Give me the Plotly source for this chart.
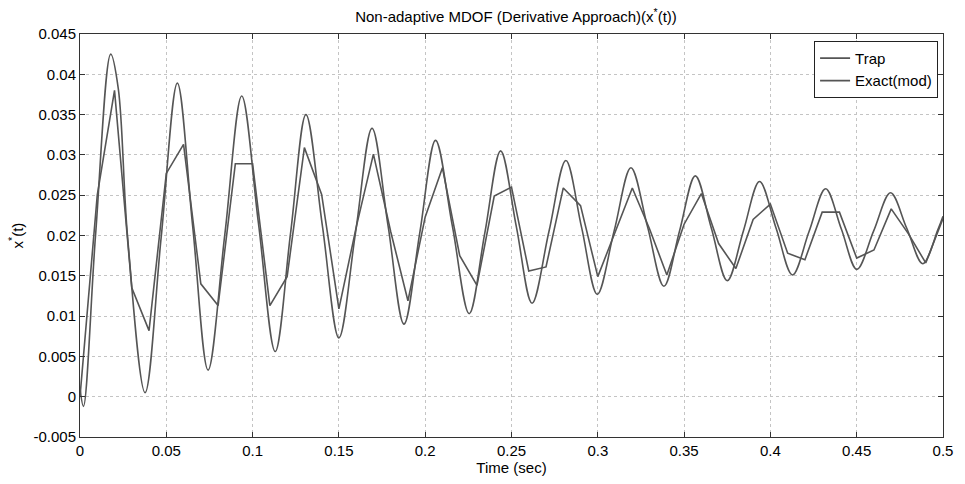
import plotly.graph_objects as go

# Smooth curve ("Trap"): times and values
trap_t = [0.0, 0.002, 0.009, 0.0178, 0.0222, 0.0275, 0.0377, 0.047, 0.0564, 0.0653,
          0.0742, 0.0840, 0.0937, 0.1034, 0.1131, 0.1220, 0.1309, 0.1405, 0.1500, 0.1596,
          0.1692, 0.1785, 0.1877, 0.1969, 0.2060, 0.2158, 0.2255, 0.2346, 0.2437, 0.2528,
          0.2619, 0.2717, 0.2815, 0.2906, 0.2997, 0.3095, 0.3192, 0.3288, 0.3383, 0.3474,
          0.3565, 0.3658, 0.3750, 0.3844, 0.3937, 0.4033, 0.4128, 0.4224, 0.4320, 0.4411,
          0.4501, 0.4599, 0.4696, 0.4790, 0.4883, 0.4970, 0.5000]
trap_v = [0.0010, -0.0012, 0.0200, 0.0425, 0.0382, 0.0200, 0.0005, 0.0197, 0.0389, 0.0211,
          0.0033, 0.0203, 0.0373, 0.0215, 0.0056, 0.0203, 0.0350, 0.0211, 0.0073, 0.0203,
          0.0333, 0.0212, 0.0090, 0.0204, 0.0318, 0.0211, 0.0103, 0.0204, 0.0305, 0.0211,
          0.0116, 0.0205, 0.0293, 0.0210, 0.0127, 0.0206, 0.0284, 0.0211, 0.0137, 0.0206,
          0.0274, 0.0209, 0.0144, 0.0206, 0.0267, 0.0209, 0.0151, 0.0205, 0.0258, 0.0208,
          0.0158, 0.0206, 0.0253, 0.0209, 0.0165, 0.0207, 0.0224]

# Piecewise curve ("Exact(mod)") sampled every 0.01 s
exact_t = [0.00, 0.01, 0.02, 0.03, 0.04, 0.05, 0.06, 0.07, 0.08, 0.09,
           0.10, 0.11, 0.12, 0.13, 0.14, 0.15, 0.16, 0.17, 0.18, 0.19,
           0.20, 0.21, 0.22, 0.23, 0.24, 0.25, 0.26, 0.27, 0.28, 0.29,
           0.30, 0.31, 0.32, 0.33, 0.34, 0.35, 0.36, 0.37, 0.38, 0.39,
           0.40, 0.41, 0.42, 0.43, 0.44, 0.45, 0.46, 0.47, 0.48, 0.49, 0.50]
exact_v = [0.0000, 0.0250, 0.0380, 0.0135, 0.0082, 0.0277, 0.0313, 0.0140, 0.0113, 0.0289,
           0.0289, 0.0113, 0.0149, 0.0309, 0.0251, 0.0109, 0.0210, 0.0301, 0.0205, 0.0119,
           0.0223, 0.0284, 0.0175, 0.0138, 0.0249, 0.0260, 0.0156, 0.0161, 0.0259, 0.0237,
           0.0149, 0.0205, 0.0259, 0.0208, 0.0151, 0.0214, 0.0252, 0.0190, 0.0159, 0.0220,
           0.0239, 0.0178, 0.0170, 0.0229, 0.0229, 0.0172, 0.0182, 0.0233, 0.0202, 0.0166, 0.0221]

x_tickvals = [0, 0.05, 0.1, 0.15, 0.2, 0.25, 0.3, 0.35, 0.4, 0.45, 0.5]
x_ticktext = ["0", "0.05", "0.1", "0.15", "0.2", "0.25", "0.3", "0.35", "0.4", "0.45", "0.5"]
y_tickvals = [-0.005, 0, 0.005, 0.01, 0.015, 0.02, 0.025, 0.03, 0.035, 0.04, 0.045]
y_ticktext = ["-0.005", "0", "0.005", "0.01", "0.015", "0.02", "0.025", "0.03", "0.035", "0.04", "0.045"]

FONT = "Liberation Sans, Arial, sans-serif"
LINE = "#555555"
TXT = "#000000"

fig = go.Figure()
fig.add_trace(go.Scatter(x=trap_t, y=trap_v, mode="lines", name="Trap",
                         line=dict(color=LINE, width=1.6, shape="spline", smoothing=1.0)))
fig.add_trace(go.Scatter(x=exact_t, y=exact_v, mode="lines", name="Exact(mod)",
                         line=dict(color=LINE, width=1.6)))

axis_common = dict(showline=True, linecolor="#333333", linewidth=1, mirror="ticks",
                   ticks="inside", ticklen=5, tickcolor="#333333",
                   showgrid=True, gridcolor="#c4c4c4", griddash="dot", gridwidth=1,
                   zeroline=False, tickfont=dict(family=FONT, size=15, color=TXT))

fig.update_xaxes(range=[0, 0.5], tickvals=x_tickvals, ticktext=x_ticktext,
                 title=dict(text="Time (sec)", font=dict(family=FONT, size=15, color=TXT),
                            standoff=2),
                 **axis_common)
fig.update_yaxes(range=[-0.005, 0.045], tickvals=y_tickvals, ticktext=y_ticktext,
                 title=dict(text="x<sup>*</sup>(t)", font=dict(family=FONT, size=15, color=TXT),
                            standoff=6),
                 **axis_common)

fig.update_layout(
    width=965, height=484,
    margin=dict(l=80, r=13, t=34, b=41),
    paper_bgcolor="white", plot_bgcolor="white",
    title=dict(text="Non-adaptive MDOF (Derivative Approach)(x<sup>*</sup>(t))",
               x=0.5 + (80 - 13) / 2 / 965, xanchor="center", y=1 - 17 / 484, yanchor="middle",
               font=dict(family=FONT, size=15, color=TXT)),
    legend=dict(x=0.9943, y=0.983, xanchor="right", yanchor="top",
                bgcolor="white", bordercolor="#222222", borderwidth=1,
                font=dict(family=FONT, size=15, color=TXT),
                tracegroupgap=0, itemwidth=30),
    showlegend=True,
)

fig.write_html("out.html")
